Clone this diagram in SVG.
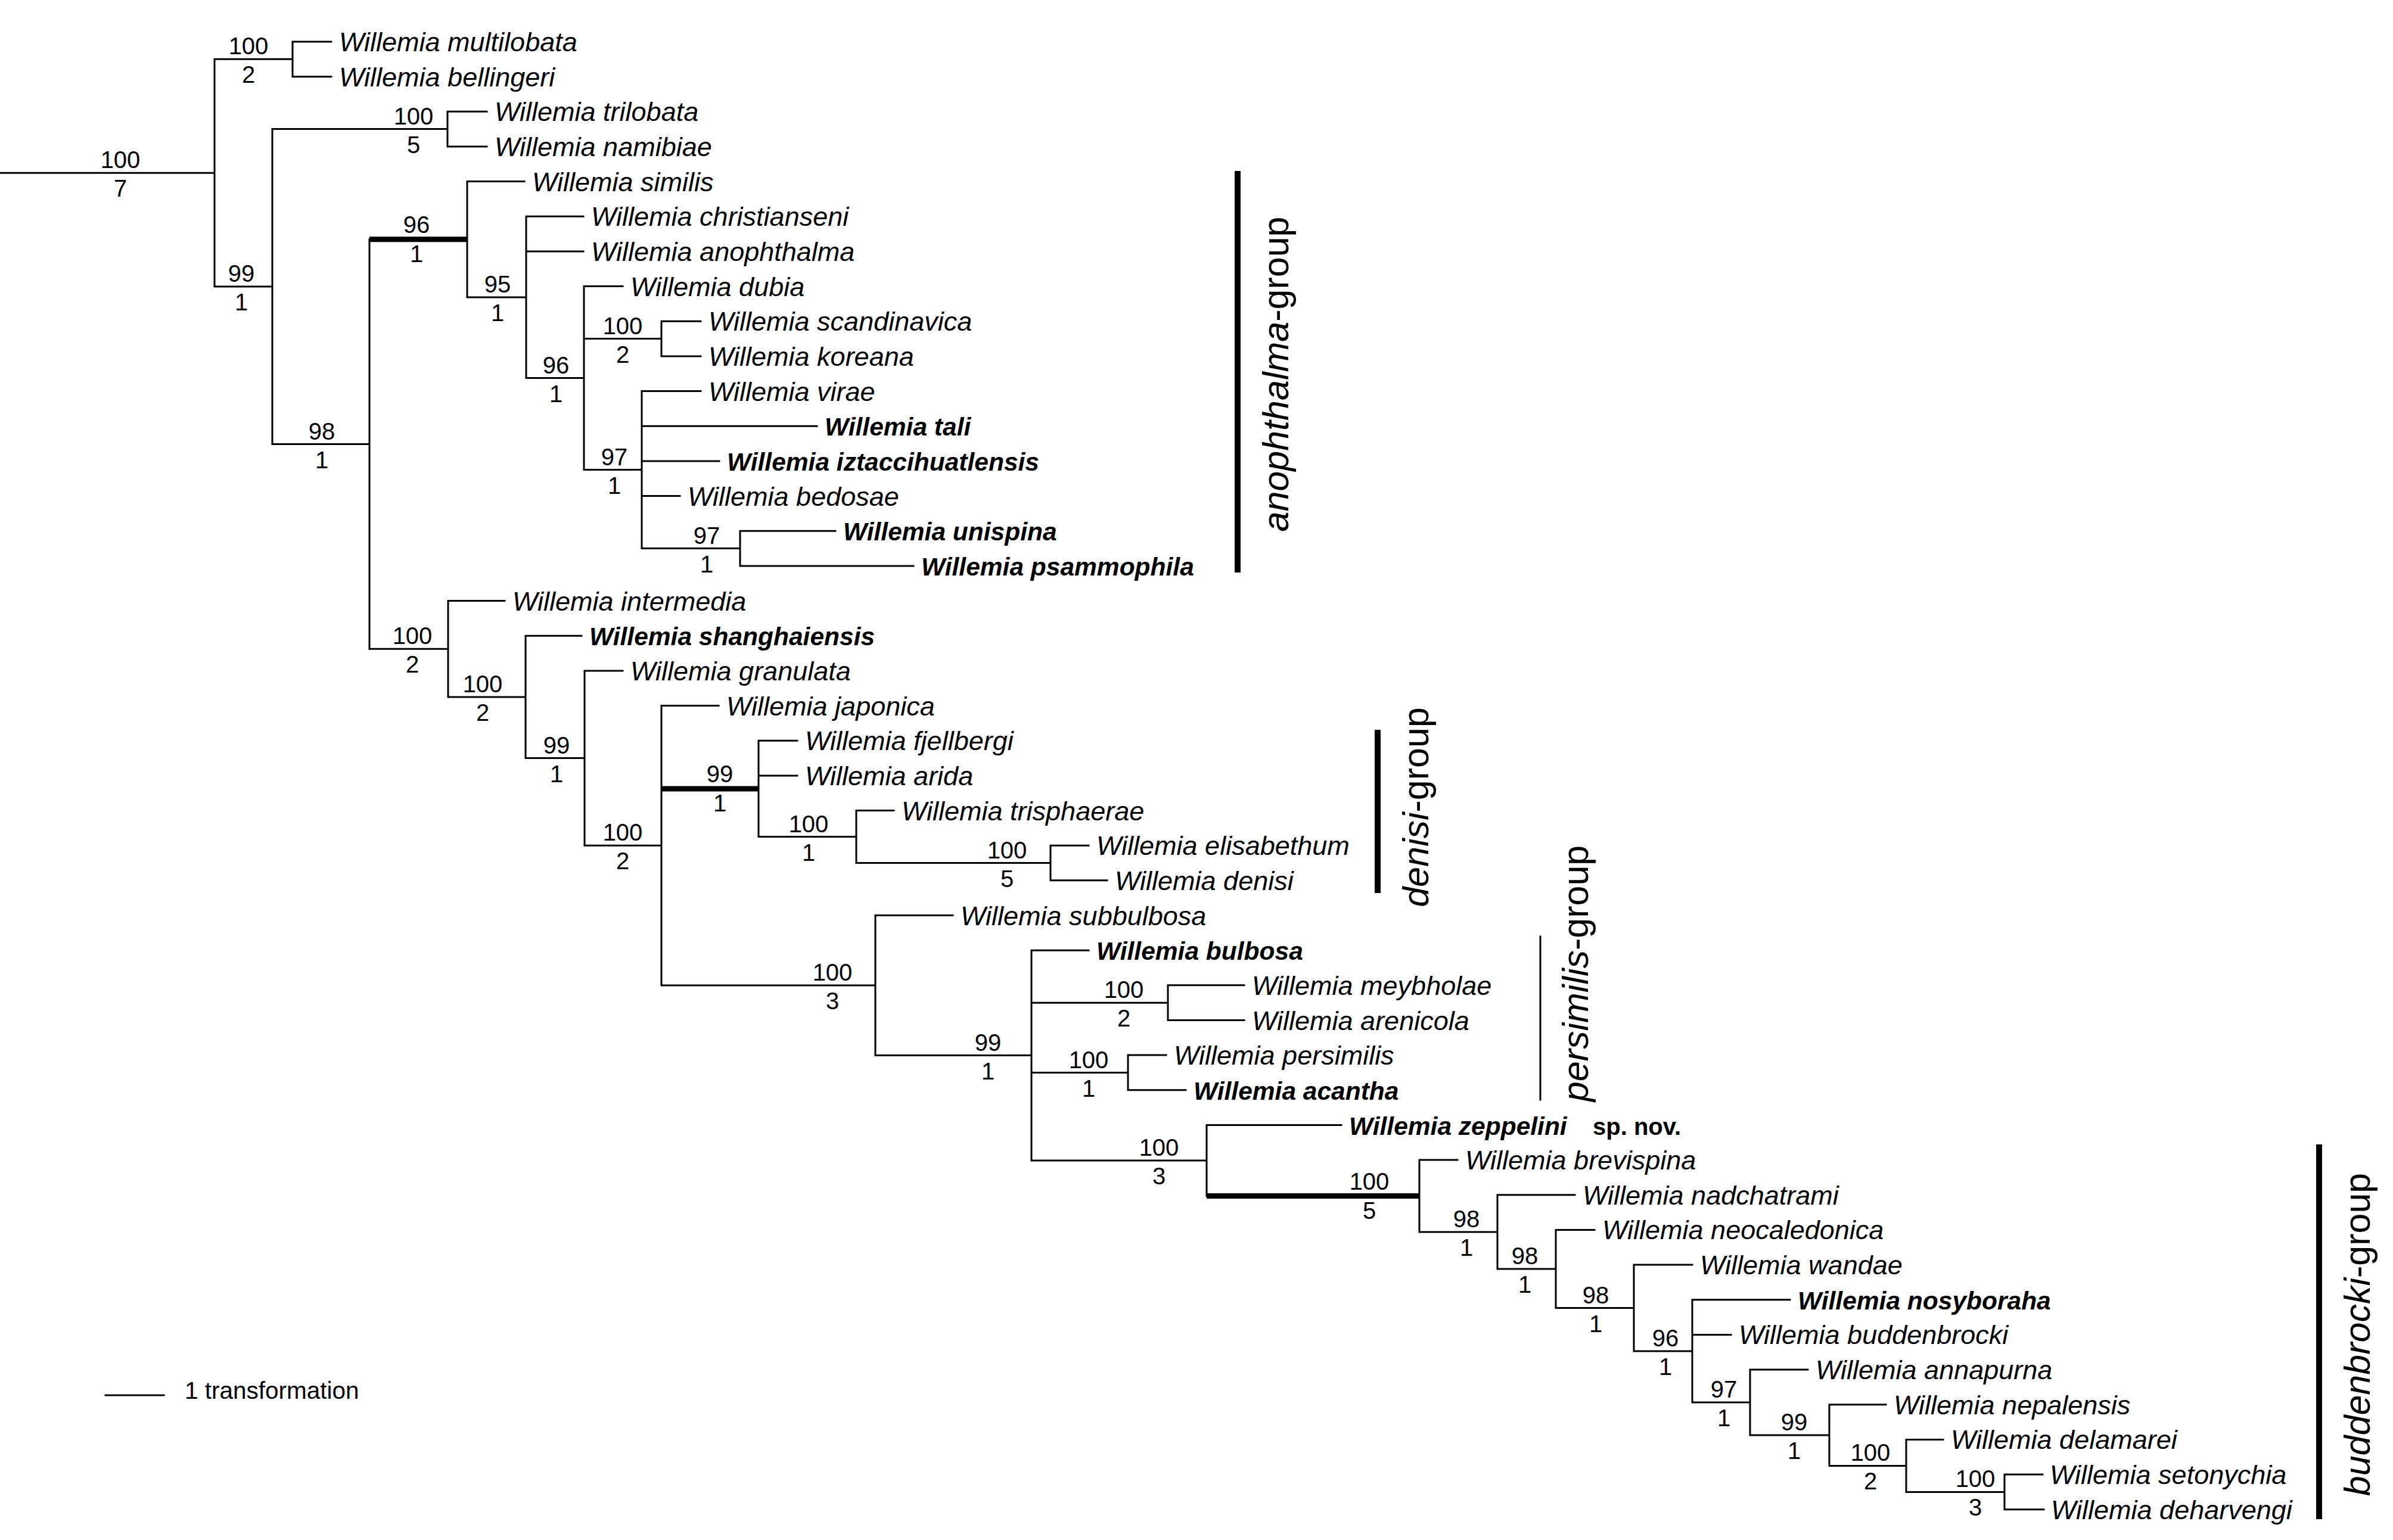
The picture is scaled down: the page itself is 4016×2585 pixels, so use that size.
<svg xmlns="http://www.w3.org/2000/svg" width="4016" height="2585" viewBox="0 0 4016 2585">
<style>
text{font-family:"Liberation Sans",Arial,sans-serif;fill:#000}
.t{font-style:italic;font-size:45px}
.tb{font-style:italic;font-weight:bold;font-size:42.5px}
.sp{font-weight:bold;font-size:40px}
.n{font-size:40px;text-anchor:middle}
.g{font-size:61px;text-anchor:middle}
.ln{stroke:#000;stroke-width:3;fill:none;stroke-linecap:square}
.thk{stroke:#000;stroke-width:9;fill:none}
.bar{stroke:#000;stroke-width:10;fill:none}
</style>
<rect width="4016" height="2585" fill="#fff"/>
<g id="connectors">
<path class="ln" d="M0 290.2H360M360 99.3V481
M360 99.3H491M491 70V128.7M491 70H556M491 128.7H556
M360 481H457M457 216.6V745.5
M457 216.6H751M751 187.3V246M751 187.3H817M751 246H817
M457 745.5H620M620 401.8V1089.2
M784 304.6V499M784 304.6H880
M784 499H883M883 363.3V634.6M883 363.3H979M883 422H979
M883 634.6H980M980 480.6V788.6M980 480.6H1045
M980 568.6H1110M1110 539.3V597.9M1110 539.3H1176M1110 597.9H1176
M980 788.6H1077M1077 656.6V920.5M1077 656.6H1176M1077 715.3H1371M1077 773.9H1207M1077 832.6H1141
M1077 920.5H1242M1242 891.2V949.9M1242 891.2H1402M1242 949.9H1533
M620 1089.2H752M752 1008.6V1169.9M752 1008.6H847
M752 1169.9H882M882 1067.2V1272.6M882 1067.2H976
M882 1272.6H981M981 1125.9V1419.3M981 1125.9H1045
M981 1419.3H1110M1110 1184.5V1654M1110 1184.5H1206
M1273 1243.2V1404.5M1273 1243.2H1338M1273 1301.9H1338
M1273 1404.5H1437M1437 1360.5V1448.5M1437 1360.5H1500
M1437 1448.5H1763M1763 1419.2V1477.8M1763 1419.2H1827M1763 1477.8H1858
M1110 1654H1469M1469 1536.5V1771.6M1469 1536.5H1599
M1469 1771.6H1731M1731 1595.2V1948M1731 1595.2H1827
M1731 1683.2H1960M1960 1653.8V1712.5M1960 1653.8H2088M1960 1712.5H2088
M1731 1800.5H1893M1893 1771.1V1829.8M1893 1771.1H1957M1893 1829.8H1990
M1731 1948H2025M2025 1888.5V2007.5M2025 1888.5H2251
M2382 1947.1V2067.9M2382 1947.1H2446
M2382 2067.9H2513M2513 2005.8V2130M2513 2005.8H2643
M2513 2130H2611M2611 2064.4V2195.5M2611 2064.4H2676
M2611 2195.5H2742M2742 2123.1V2267.9M2742 2123.1H2840
M2742 2267.9H2840M2840 2181.8V2354.1M2840 2181.8H3004M2840 2240.4H2905
M2840 2354.1H2937M2937 2299.1V2409M2937 2299.1H3034
M2937 2409H3070M3070 2357.7V2460.4M3070 2357.7H3165
M3070 2460.4H3199M3199 2416.4V2504.4M3199 2416.4H3261
M3199 2504.4H3364M3364 2475.1V2533.7M3364 2475.1H3428M3364 2533.7H3430"/>
<path class="thk" d="M620 401.8H784M1110 1323.9H1273M2025 2007.5H2382"/>
</g>
<g id="taxa">
<g id="t-multilobata"><text class="t" x="569" y="86">Willemia multilobata</text></g>
<g id="t-bellingeri"><text class="t" x="569" y="144.7">Willemia bellingeri</text></g>
<g id="t-trilobata"><text class="t" x="830" y="203.3">Willemia trilobata</text></g>
<g id="t-namibiae"><text class="t" x="830" y="262">Willemia namibiae</text></g>
<g id="t-similis"><text class="t" x="893" y="320.6">Willemia similis</text></g>
<g id="t-christianseni"><text class="t" x="992" y="379.3">Willemia christianseni</text></g>
<g id="t-anophthalma"><text class="t" x="992" y="438">Willemia anophthalma</text></g>
<g id="t-dubia"><text class="t" x="1058" y="496.6">Willemia dubia</text></g>
<g id="t-scandinavica"><text class="t" x="1189" y="555.3">Willemia scandinavica</text></g>
<g id="t-koreana"><text class="t" x="1189" y="613.9">Willemia koreana</text></g>
<g id="t-virae"><text class="t" x="1189" y="672.6">Willemia virae</text></g>
<g id="t-tali"><text class="tb" x="1384" y="731.3">Willemia tali</text></g>
<g id="t-iztaccihuatlensis"><text class="tb" x="1220" y="789.9">Willemia iztaccihuatlensis</text></g>
<g id="t-bedosae"><text class="t" x="1154" y="848.6">Willemia bedosae</text></g>
<g id="t-unispina"><text class="tb" x="1415" y="907.2">Willemia unispina</text></g>
<g id="t-psammophila"><text class="tb" x="1546" y="965.9">Willemia psammophila</text></g>
<g id="t-intermedia"><text class="t" x="860" y="1024.6">Willemia intermedia</text></g>
<g id="t-shanghaiensis"><text class="tb" x="989" y="1083.2">Willemia shanghaiensis</text></g>
<g id="t-granulata"><text class="t" x="1058" y="1141.9">Willemia granulata</text></g>
<g id="t-japonica"><text class="t" x="1219" y="1200.5">Willemia japonica</text></g>
<g id="t-fjellbergi"><text class="t" x="1351" y="1259.2">Willemia fjellbergi</text></g>
<g id="t-arida"><text class="t" x="1351" y="1317.9">Willemia arida</text></g>
<g id="t-trisphaerae"><text class="t" x="1513" y="1376.5">Willemia trisphaerae</text></g>
<g id="t-elisabethum"><text class="t" x="1840" y="1435.2">Willemia elisabethum</text></g>
<g id="t-denisi"><text class="t" x="1871" y="1493.8">Willemia denisi</text></g>
<g id="t-subbulbosa"><text class="t" x="1612" y="1552.5">Willemia subbulbosa</text></g>
<g id="t-bulbosa"><text class="tb" x="1840" y="1611.2">Willemia bulbosa</text></g>
<g id="t-meybholae"><text class="t" x="2101" y="1669.8">Willemia meybholae</text></g>
<g id="t-arenicola"><text class="t" x="2101" y="1728.5">Willemia arenicola</text></g>
<g id="t-persimilis"><text class="t" x="1970" y="1787.1">Willemia persimilis</text></g>
<g id="t-acantha"><text class="tb" x="2003" y="1845.8">Willemia acantha</text></g>
<g id="t-zeppelini"><text class="tb" x="2264" y="1904.5">Willemia zeppelini</text><text class="sp" x="2673" y="1904.5">sp. nov.</text></g>
<g id="t-brevispina"><text class="t" x="2459" y="1963.1">Willemia brevispina</text></g>
<g id="t-nadchatrami"><text class="t" x="2656" y="2021.8">Willemia nadchatrami</text></g>
<g id="t-neocaledonica"><text class="t" x="2689" y="2080.4">Willemia neocaledonica</text></g>
<g id="t-wandae"><text class="t" x="2853" y="2139.1">Willemia wandae</text></g>
<g id="t-nosyboraha"><text class="tb" x="3017" y="2197.8">Willemia nosyboraha</text></g>
<g id="t-buddenbrocki"><text class="t" x="2918" y="2256.4">Willemia buddenbrocki</text></g>
<g id="t-annapurna"><text class="t" x="3047" y="2315.1">Willemia annapurna</text></g>
<g id="t-nepalensis"><text class="t" x="3178" y="2373.7">Willemia nepalensis</text></g>
<g id="t-delamarei"><text class="t" x="3274" y="2432.4">Willemia delamarei</text></g>
<g id="t-setonychia"><text class="t" x="3440" y="2491.1">Willemia setonychia</text></g>
<g id="t-deharvengi"><text class="t" x="3442" y="2549.7">Willemia deharvengi</text></g>
</g>
<g id="support">
<g id="n-root"><text class="n" x="202" y="282">100</text><text class="n" x="202" y="330">7</text></g>
<g id="n-mb"><text class="n" x="417" y="91">100</text><text class="n" x="417" y="139">2</text></g>
<g id="n-tn"><text class="n" x="694" y="208.6">100</text><text class="n" x="694" y="256.6">5</text></g>
<g id="n-99a"><text class="n" x="405" y="473">99</text><text class="n" x="405" y="521">1</text></g>
<g id="n-98a"><text class="n" x="540" y="737.5">98</text><text class="n" x="540" y="785.5">1</text></g>
<g id="n-96a"><text class="n" x="699" y="391">96</text><text class="n" x="699" y="440">1</text></g>
<g id="n-95"><text class="n" x="835" y="491">95</text><text class="n" x="835" y="539">1</text></g>
<g id="n-96b"><text class="n" x="933" y="626.6">96</text><text class="n" x="933" y="674.6">1</text></g>
<g id="n-sk"><text class="n" x="1045" y="560.6">100</text><text class="n" x="1045" y="608.6">2</text></g>
<g id="n-97a"><text class="n" x="1031" y="780.6">97</text><text class="n" x="1031" y="828.6">1</text></g>
<g id="n-97b"><text class="n" x="1186" y="912.5">97</text><text class="n" x="1186" y="960.5">1</text></g>
<g id="n-100a"><text class="n" x="692" y="1081.2">100</text><text class="n" x="692" y="1129.2">2</text></g>
<g id="n-100b"><text class="n" x="810" y="1161.9">100</text><text class="n" x="810" y="1209.9">2</text></g>
<g id="n-99c"><text class="n" x="934" y="1264.6">99</text><text class="n" x="934" y="1312.6">1</text></g>
<g id="n-100c"><text class="n" x="1045" y="1411.3">100</text><text class="n" x="1045" y="1459.3">2</text></g>
<g id="n-denisi"><text class="n" x="1208" y="1313">99</text><text class="n" x="1208" y="1362">1</text></g>
<g id="n-100d"><text class="n" x="1357" y="1396.5">100</text><text class="n" x="1357" y="1444.5">1</text></g>
<g id="n-100e"><text class="n" x="1690" y="1440.5">100</text><text class="n" x="1690" y="1488.5">5</text></g>
<g id="n-100f"><text class="n" x="1397" y="1646">100</text><text class="n" x="1397" y="1694">3</text></g>
<g id="n-99d"><text class="n" x="1658" y="1763.6">99</text><text class="n" x="1658" y="1811.6">1</text></g>
<g id="n-100g"><text class="n" x="1886" y="1675.2">100</text><text class="n" x="1886" y="1723.2">2</text></g>
<g id="n-100h"><text class="n" x="1827" y="1792.5">100</text><text class="n" x="1827" y="1840.5">1</text></g>
<g id="n-100i"><text class="n" x="1945" y="1940">100</text><text class="n" x="1945" y="1988">3</text></g>
<g id="n-bud"><text class="n" x="2298" y="1997">100</text><text class="n" x="2298" y="2046">5</text></g>
<g id="n-98b"><text class="n" x="2461" y="2059.9">98</text><text class="n" x="2461" y="2107.9">1</text></g>
<g id="n-98c"><text class="n" x="2559" y="2122">98</text><text class="n" x="2559" y="2170">1</text></g>
<g id="n-98d"><text class="n" x="2678" y="2187.5">98</text><text class="n" x="2678" y="2235.5">1</text></g>
<g id="n-96c"><text class="n" x="2795" y="2259.9">96</text><text class="n" x="2795" y="2307.9">1</text></g>
<g id="n-97c"><text class="n" x="2893" y="2346.1">97</text><text class="n" x="2893" y="2394.1">1</text></g>
<g id="n-99e"><text class="n" x="3011" y="2401">99</text><text class="n" x="3011" y="2449">1</text></g>
<g id="n-100j"><text class="n" x="3139" y="2452.4">100</text><text class="n" x="3139" y="2500.4">2</text></g>
<g id="n-100k"><text class="n" x="3315" y="2496.4">100</text><text class="n" x="3315" y="2544.4">3</text></g>
</g>
<g id="groups">
<g id="g-anophthalma"><path class="bar" d="M2077 287V961"/><text class="g" transform="translate(2162,628) rotate(-90)"><tspan font-style="italic">anophthalma</tspan>-group</text></g>
<g id="g-denisi"><path class="bar" d="M2312 1225V1499"/><text class="g" transform="translate(2397,1355) rotate(-90)"><tspan font-style="italic">denisi</tspan>-group</text></g>
<g id="g-persimilis"><path class="ln" d="M2585 1572V1846" stroke-linecap="butt"/><text class="g" transform="translate(2665,1634) rotate(-90)"><tspan font-style="italic">persimilis</tspan>-group</text></g>
<g id="g-buddenbrocki"><path class="bar" d="M3892 1921V2550"/><text class="g" transform="translate(3977,2240) rotate(-90)"><tspan font-style="italic">buddenbrocki</tspan>-group</text></g>
</g>
<g id="scale">
<path class="ln" d="M177 2342H275" stroke-linecap="butt"/>
<text x="310" y="2348" font-size="40.5">1 transformation</text>
</g>
</svg>
